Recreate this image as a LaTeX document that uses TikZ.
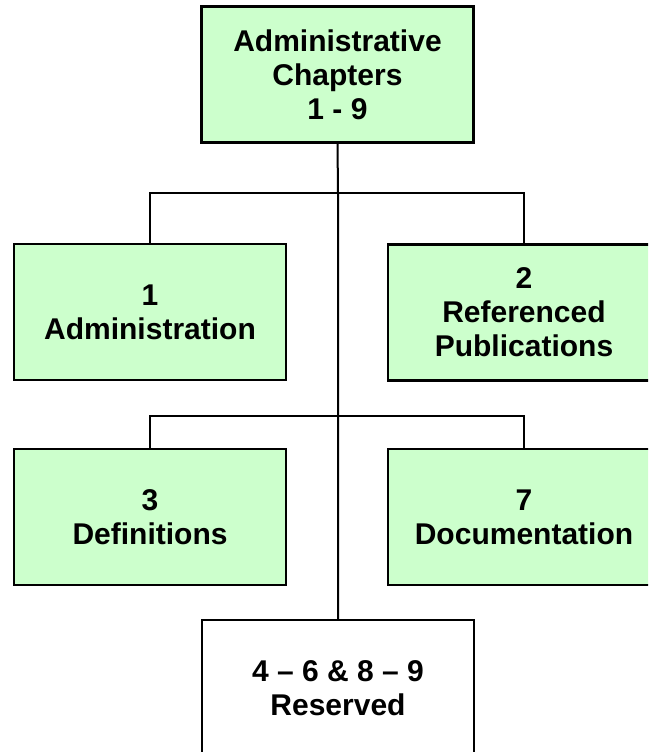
\documentclass[tikz,border=0pt]{standalone}
\usepackage{fontspec}
\setmainfont{Liberation Sans}
\definecolor{boxgreen}{HTML}{CCFFCC}
\tikzset{
  chapbox/.style={draw=black, line width=2.5pt, fill=boxgreen,
    minimum width=272pt, minimum height=136pt, inner sep=0pt,
    align=center, font=\fontsize{30}{34}\selectfont\bfseries},
  emptybox/.style={chapbox, fill=white},
  link/.style={draw=black, line width=2pt}
}
\begin{document}
\begin{tikzpicture}[x=1pt, y=-1pt]
  \useasboundingbox (0,0) rectangle (648,752);
  \clip (0,0) rectangle (648,752);
  \fill[white] (0,0) rectangle (648,752);

  % branch points on the main trunk
  \coordinate (j1) at (338,193);
  \coordinate (j2) at (338,416);

  \node[chapbox] (top) at (337.5,74.5) {Administrative\\Chapters\\1 - 9};
  \node[chapbox] (c1) at (150,312) {1\\Administration};
  \node[chapbox] (c2) at (524,312.5) {2\\Referenced\\Publications};
  \node[chapbox] (c3) at (150,517) {3\\Definitions};
  \node[chapbox] (c7) at (524,517) {7\\Documentation};
  \node[emptybox] (res) at (338,688) {4 – 6 \& 8 – 9\\Reserved};

  \draw[link] (top.south) -- (j1) -- (j2) -- (res.north);
  \draw[link] (c1.north) -- (c1.north |- j1) -- (c2.north |- j1) -- (c2.north);
  \draw[link] (c3.north) -- (c3.north |- j2) -- (c7.north |- j2) -- (c7.north);
\end{tikzpicture}
\end{document}
